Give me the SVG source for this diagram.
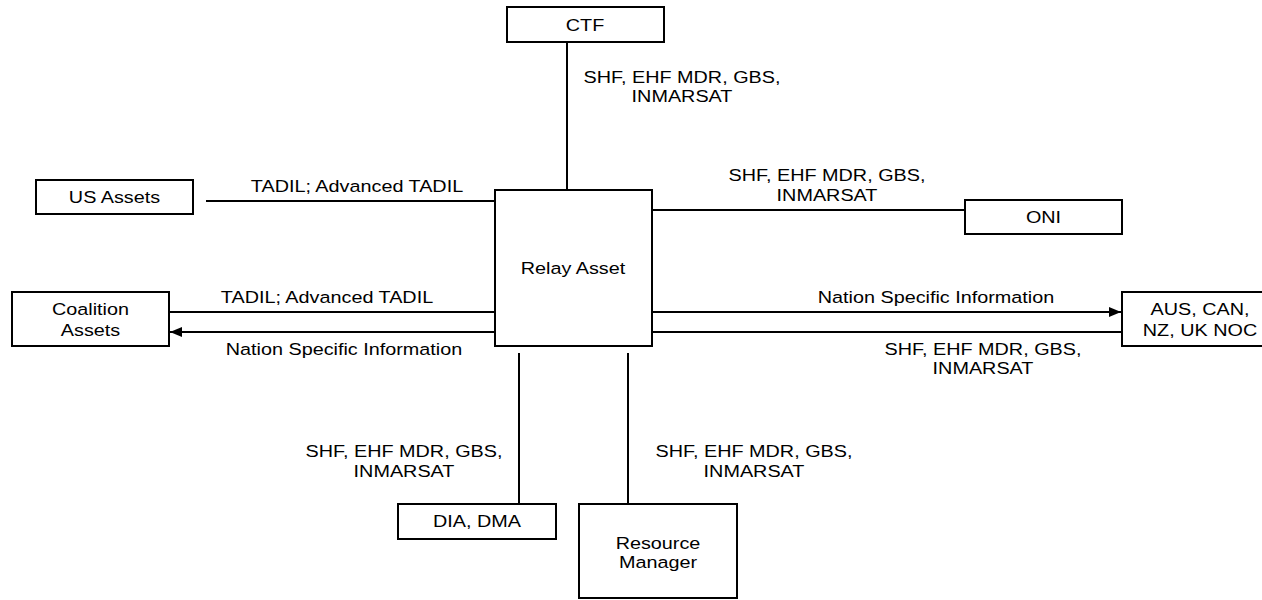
<svg xmlns="http://www.w3.org/2000/svg" width="1262" height="600" viewBox="0 0 1262 600">
  <style>
    .box { fill: #ffffff; stroke: #000000; stroke-width: 2; }
    .link { fill: none; stroke: #000000; stroke-width: 2; }
    text { font-family: "Liberation Sans", Arial, sans-serif; font-size: 16.5px; fill: #000000; text-anchor: middle; }
  </style>
  <defs>
    <marker id="arrow" viewBox="0 0 12 10" refX="12" refY="5" markerWidth="12" markerHeight="10" markerUnits="userSpaceOnUse" orient="auto">
      <path d="M0,0 L12,5 L0,10 Z" fill="#000000"/>
    </marker>
  </defs>
  <rect width="1262" height="600" fill="#ffffff"/>

  <!-- connectors -->
  <g id="connectors">
    <line class="link" x1="567" y1="42" x2="567" y2="190"/>
    <line class="link" x1="206" y1="201" x2="495" y2="201"/>
    <line class="link" x1="169" y1="312" x2="495" y2="312"/>
    <line class="link" x1="495" y1="332" x2="170" y2="332" marker-end="url(#arrow)"/>
    <line class="link" x1="652" y1="210" x2="965" y2="210"/>
    <line class="link" x1="652" y1="312" x2="1121" y2="312" marker-end="url(#arrow)"/>
    <line class="link" x1="652" y1="332" x2="1122" y2="332"/>
    <line class="link" x1="519" y1="353" x2="519" y2="504"/>
    <line class="link" x1="628" y1="353" x2="628" y2="504"/>

    <text transform="translate(682,83) scale(1.2,1)"><tspan x="0">SHF, EHF MDR, GBS,</tspan><tspan x="0" dy="19">INMARSAT</tspan></text>
    <text transform="translate(357,192) scale(1.2,1)">TADIL; Advanced TADIL</text>
    <text transform="translate(327,303) scale(1.2,1)">TADIL; Advanced TADIL</text>
    <text transform="translate(344,355) scale(1.2,1)">Nation Specific Information</text>
    <text transform="translate(827,181) scale(1.2,1)"><tspan x="0">SHF, EHF MDR, GBS,</tspan><tspan x="0" dy="20">INMARSAT</tspan></text>
    <text transform="translate(936,303) scale(1.2,1)">Nation Specific Information</text>
    <text transform="translate(983,355) scale(1.2,1)"><tspan x="0">SHF, EHF MDR, GBS,</tspan><tspan x="0" dy="19">INMARSAT</tspan></text>
    <text transform="translate(404,457) scale(1.2,1)"><tspan x="0">SHF, EHF MDR, GBS,</tspan><tspan x="0" dy="20">INMARSAT</tspan></text>
    <text transform="translate(754,457) scale(1.2,1)"><tspan x="0">SHF, EHF MDR, GBS,</tspan><tspan x="0" dy="20">INMARSAT</tspan></text>
  </g>

  <!-- nodes -->
  <g id="ctf">
    <rect class="box" x="507" y="7" width="157" height="35"/>
    <text transform="translate(585,31) scale(1.2,1)">CTF</text>
  </g>
  <g id="relay-asset">
    <rect class="box" x="495" y="190" width="157" height="156"/>
    <text transform="translate(573,274) scale(1.2,1)">Relay Asset</text>
  </g>
  <g id="us-assets">
    <rect class="box" x="36" y="180" width="157" height="34"/>
    <text transform="translate(114.5,203) scale(1.2,1)">US Assets</text>
  </g>
  <g id="coalition-assets">
    <rect class="box" x="12" y="292" width="157" height="54"/>
    <text transform="translate(90.5,315) scale(1.2,1)"><tspan x="0">Coalition</tspan><tspan x="0" dy="21">Assets</tspan></text>
  </g>
  <g id="oni">
    <rect class="box" x="965" y="200" width="157" height="34"/>
    <text transform="translate(1043.5,223) scale(1.2,1)">ONI</text>
  </g>
  <g id="noc">
    <rect class="box" x="1122" y="292" width="157" height="54"/>
    <text transform="translate(1200,315) scale(1.2,1)"><tspan x="0">AUS, CAN,</tspan><tspan x="0" dy="21">NZ, UK NOC</tspan></text>
  </g>
  <g id="dia-dma">
    <rect class="box" x="398" y="504" width="158" height="35"/>
    <text transform="translate(477,527) scale(1.2,1)">DIA, DMA</text>
  </g>
  <g id="resource-manager">
    <rect class="box" x="579" y="504" width="158" height="94"/>
    <text transform="translate(658,549) scale(1.2,1)"><tspan x="0">Resource</tspan><tspan x="0" dy="19">Manager</tspan></text>
  </g>
</svg>
